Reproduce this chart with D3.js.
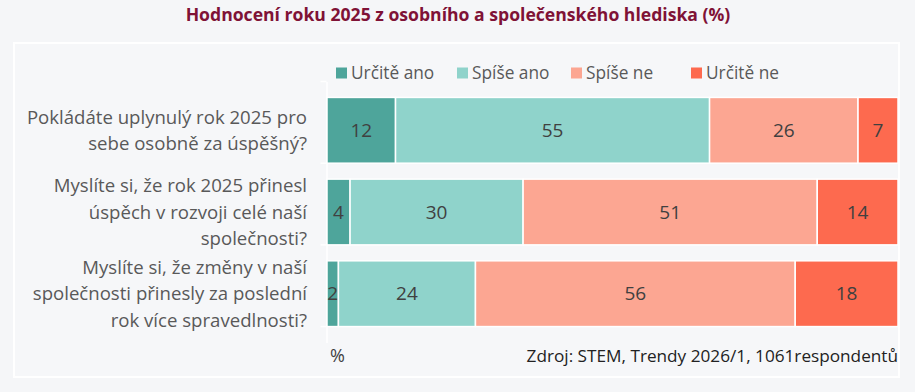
<!DOCTYPE html>
<html>
<head>
<meta charset="utf-8">
<script src="https://cdn.jsdelivr.net/npm/d3@7"></script>
<style>
body { margin: 0; background: #f5f6f8; }
svg { display: block; }
</style>
</head>
<body>
<div id="chart"></div>
<script>
// data
var questions = [
  ["Pokládáte uplynulý rok 2025 pro", "sebe osobně za úspěšný?"],
  ["Myslíte si, že rok 2025 přinesl", "úspěch v rozvoji celé naší", "společnosti?"],
  ["Myslíte si, že změny v naší", "společnosti přinesly za poslední", "rok více spravedlnosti?"]
];
var answers = ["Určitě ano", "Spíše ano", "Spíše ne", "Určitě ne"];
var urciteAno = [12, 4, 2];
var spiseAno = [55, 30, 24];
var spiseNe = [26, 51, 56];
var urciteNe = [7, 14, 18];
var colors = ["#4ea59b", "#8fd3cb", "#fca692", "#fd6a4f"];

var W = 915, H = 392;

var svg = d3.select("#chart").append("svg")
  .attr("width", W)
  .attr("height", H);

svg.append("rect").attr("width", W).attr("height", H).attr("fill", "#f5f6f8");

// panel
svg.append("rect")
  .attr("x", 14).attr("y", 43)
  .attr("width", 885).attr("height", 334)
  .attr("fill", "#f6f7f9")
  .attr("stroke", "#ffffff")
  .attr("stroke-width", 2);

svg.append("text")
  .attr("x", 458).attr("y", 21)
  .attr("text-anchor", "middle")
  .attr("font-family", "'Liberation Sans Narrow', 'Open Sans', sans-serif")
  .attr("font-weight", "bold")
  .attr("font-size", "17.6px")
  .attr("fill", "#7f1236")
  .text("Hodnocení roku 2025 z osobního a společenského hlediska (%)");

var rows = questions.map(function(q, i){
  return { i: i, "Určitě ano": urciteAno[i], "Spíše ano": spiseAno[i], "Spíše ne": spiseNe[i], "Určitě ne": urciteNe[i] };
});

var series = d3.stack().keys(answers).offset(d3.stackOffsetExpand)(rows);

var x = d3.scaleLinear().domain([0, 1]).range([327, 898]);
var y = d3.scaleBand().domain(d3.range(questions.length)).range([81.5, 342.5]).padding(0.195);

var color = d3.scaleOrdinal().domain(answers).range(colors);

var font = "'Open Sans', 'Noto Sans', sans-serif";

// category axis
var yAxis = svg.append("g")
  .attr("transform", "translate(" + 326.5 + ",0)")
  .call(d3.axisLeft(y).tickSize(0).tickFormat(""));
yAxis.select(".domain").attr("stroke", "#ffffff").attr("stroke-width", 1.5);
yAxis.selectAll(".tk").data([0, 1, 2, 3]).enter().append("line")
  .attr("class", "tk")
  .attr("x1", -6).attr("x2", 0)
  .attr("y1", function(d){ return y.range()[0] + d * y.step(); })
  .attr("y2", function(d){ return y.range()[0] + d * y.step(); })
  .attr("stroke", "#ffffff").attr("stroke-width", 1.5);

var groups = svg.selectAll(".serie")
  .data(series)
  .enter().append("g")
  .attr("class", "serie")
  .attr("fill", function(d){ return color(d.key); });

groups.selectAll("rect")
  .data(function(d){ return d; })
  .enter().append("rect")
  .attr("x", function(d){ return x(d[0]); })
  .attr("y", function(d){ return y(d.data.i); })
  .attr("width", function(d){ return x(d[1]) - x(d[0]); })
  .attr("height", y.bandwidth())
  .attr("stroke", "#ffffff")
  .attr("stroke-width", 1.5);

groups.selectAll(".value")
  .data(function(d){ return d.map(function(p){ p.key = d.key; return p; }); })
  .enter().append("text")
  .attr("class", "value")
  .attr("x", function(d){ return (x(d[0]) + x(d[1])) / 2; })
  .attr("y", function(d){ return y(d.data.i) + y.bandwidth() / 2; })
  .attr("dy", "0.35em")
  .attr("text-anchor", "middle")
  .attr("font-family", font)
  .attr("font-size", "19px")
  .attr("fill", "#404040")
  .text(function(d){ return d.data[d.key]; });

// question labels
var labels = svg.selectAll(".name")
  .data(questions)
  .enter().append("text")
  .attr("class", "name")
  .attr("text-anchor", "end")
  .attr("font-family", font)
  .attr("font-size", "18.6px")
  .attr("fill", "#595959");

labels.each(function(q, i){
  var lh = 26.5;
  var cy = y(i) + y.bandwidth() / 2 - (q.length - 1) * lh / 2;
  d3.select(this).selectAll("tspan")
    .data(q)
    .enter().append("tspan")
    .attr("x", 307)
    .attr("y", function(d, j){ return cy + j * lh; })
    .attr("dy", "0.35em")
    .text(function(d){ return d; });
});

// legend
var legendX = [336, 457, 571, 691];
var legend = svg.selectAll(".legend")
  .data(answers)
  .enter().append("g")
  .attr("class", "legend")
  .attr("transform", function(d, i){ return "translate(" + legendX[i] + ",73)"; });

legend.append("rect")
  .attr("x", 0).attr("y", -5.5)
  .attr("width", 11).attr("height", 11)
  .attr("fill", function(d){ return color(d); });

legend.append("text")
  .attr("x", 15)
  .attr("dy", "0.35em")
  .attr("font-family", font)
  .attr("font-size", "17.3px")
  .attr("fill", "#595959")
  .text(function(d){ return d; });

svg.append("text")
  .attr("x", 330).attr("y", 362)
  .attr("font-family", font)
  .attr("font-size", "18px")
  .attr("fill", "#404040")
  .text("%");

svg.append("text")
  .attr("x", 898).attr("y", 362)
  .attr("text-anchor", "end")
  .attr("font-family", font)
  .attr("font-size", "17.2px")
  .attr("fill", "#222222")
  .text("Zdroj: STEM, Trendy 2026/1, 1061respondentů");
</script>
</body>
</html>
